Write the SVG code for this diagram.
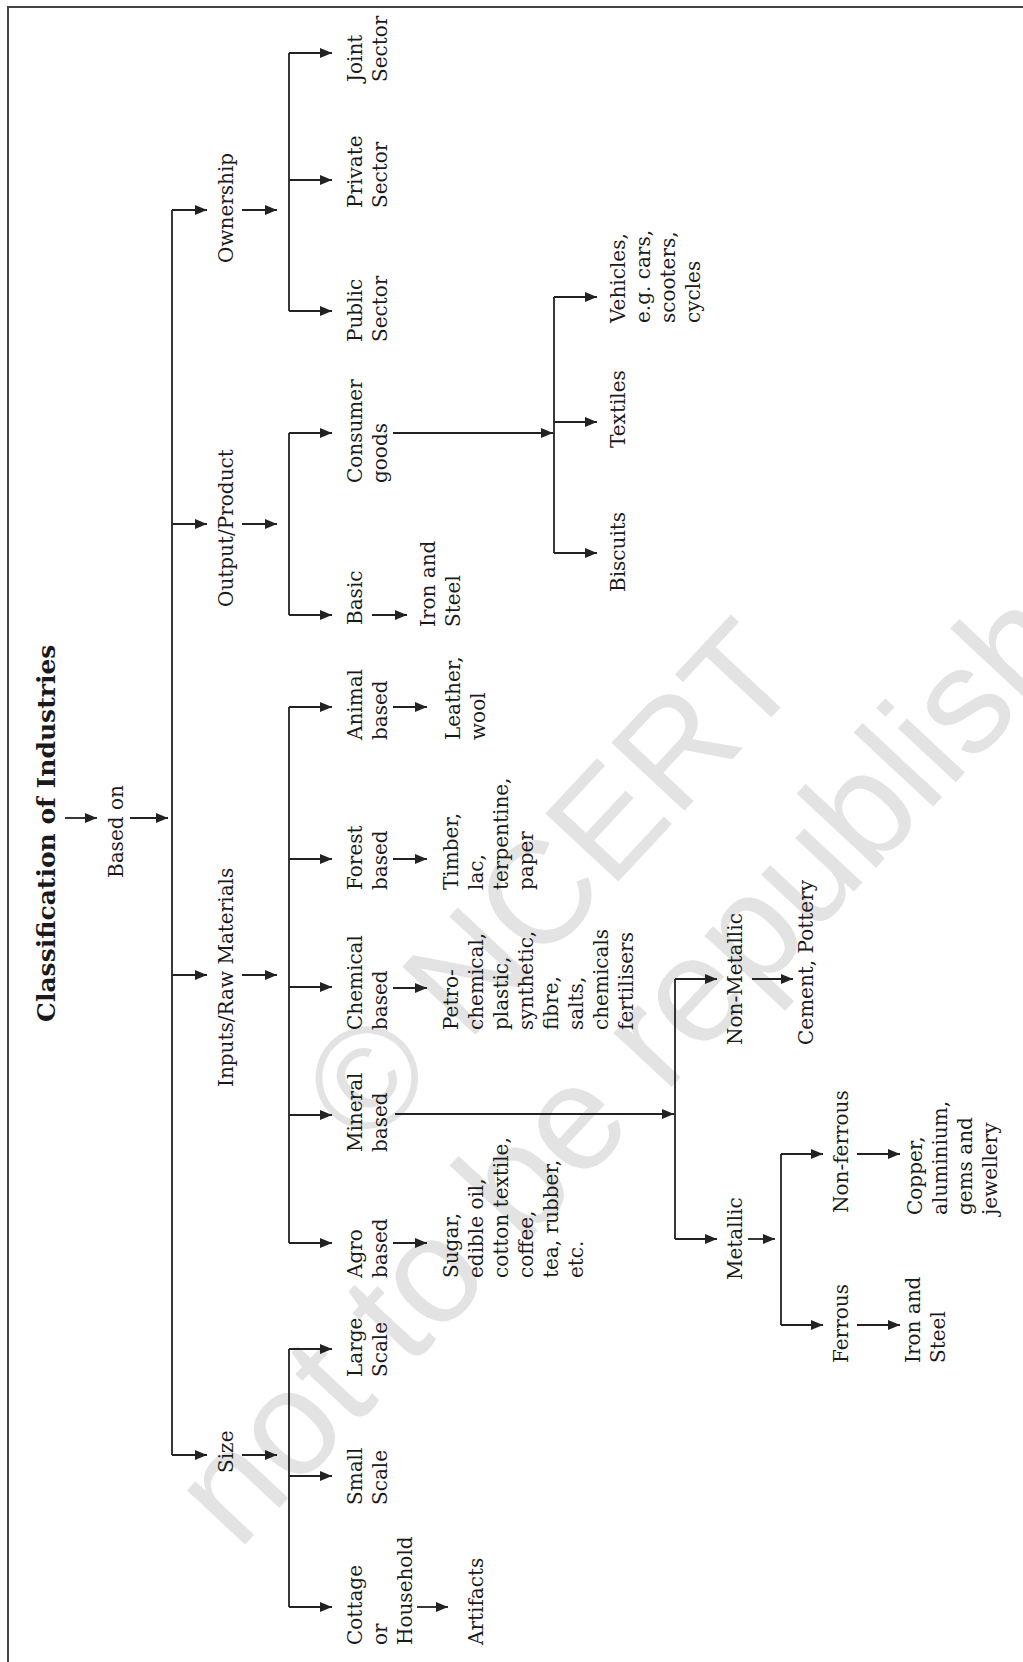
<svg xmlns="http://www.w3.org/2000/svg" width="1023" height="1662" viewBox="0 0 1023 1662">
<style>
.t{font-family:"DejaVu Serif","Liberation Serif",serif;font-size:20px;fill:#1a1a1a}
.title{font-family:"DejaVu Serif","Liberation Serif",serif;font-size:25px;font-weight:bold;fill:#1a1a1a}
.c{stroke:#222;stroke-width:1.8;fill:none}
.a{stroke:#222;stroke-width:1.8;fill:none;marker-end:url(#ah)}
.wm{font-family:"Liberation Sans",Arial,sans-serif;font-size:145px;fill:#e3e3e3}
</style>
<defs>
<marker id="ah" markerUnits="userSpaceOnUse" markerWidth="12" markerHeight="10" refX="12" refY="5" orient="auto">
<path d="M0,0 L12,5 L0,10 Z" fill="#222"/>
</marker>
</defs>
<rect width="1023" height="1662" fill="#fff"/>
<g id="watermark">
<text class="wm" transform="translate(367,1151) rotate(-47)">© NCERT</text>
<text class="wm" style="font-size:150px" transform="translate(238,1552) rotate(-47)">not to be republished</text>
</g>
<path id="border" d="M8,1662 V7 H1023" stroke="#444" stroke-width="2" fill="none"/>
<g id="connectors">
<path class="a" d="M65,818 H97"/>
<path class="a" d="M130,818 H168"/>
<path class="c" d="M172,210 V1455"/>
<path class="a" d="M172,210 H207"/>
<path class="a" d="M172,524 H207"/>
<path class="a" d="M172,975 H207"/>
<path class="a" d="M172,1455 H207"/>
<path class="a" d="M242,210 H277"/>
<path class="a" d="M242,524 H277"/>
<path class="a" d="M242,975 H277"/>
<path class="a" d="M242,1455 H277"/>
<path class="c" d="M289,53 V311"/>
<path class="a" d="M289,53 H332"/>
<path class="a" d="M289,180 H332"/>
<path class="a" d="M289,311 H332"/>
<path class="c" d="M289,433 V615"/>
<path class="a" d="M289,433 H332"/>
<path class="a" d="M289,615 H332"/>
<path class="c" d="M289,707 V1243"/>
<path class="a" d="M289,707 H332"/>
<path class="a" d="M289,859 H332"/>
<path class="a" d="M289,987 H332"/>
<path class="a" d="M289,1115 H332"/>
<path class="a" d="M289,1243 H332"/>
<path class="c" d="M289,1349 V1607"/>
<path class="a" d="M289,1349 H332"/>
<path class="a" d="M289,1476 H332"/>
<path class="a" d="M289,1607 H332"/>
<path class="a" d="M393,433 H553"/>
<path class="c" d="M554,297 V553"/>
<path class="a" d="M554,297 H597"/>
<path class="a" d="M554,422 H597"/>
<path class="a" d="M554,553 H597"/>
<path class="a" d="M372,615 H407"/>
<path class="a" d="M393,707 H427"/>
<path class="a" d="M393,859 H427"/>
<path class="a" d="M393,988 H427"/>
<path class="a" d="M393,1243 H427"/>
<path class="a" d="M417,1607 H448"/>
<path class="a" d="M395,1114 H674"/>
<path class="c" d="M675,979 V1239"/>
<path class="a" d="M675,979 H717"/>
<path class="a" d="M675,1239 H717"/>
<path class="a" d="M752,979 H793"/>
<path class="a" d="M748,1239 H775"/>
<path class="c" d="M781,1154 V1325"/>
<path class="a" d="M781,1154 H823"/>
<path class="a" d="M781,1325 H823"/>
<path class="a" d="M857,1154 H900"/>
<path class="a" d="M857,1325 H900"/>
</g>
<g id="title"><text class="title" transform="translate(55,1022) rotate(-90)">Classification of Industries</text></g>
<g id="based-on"><text class="t" transform="translate(123,878) rotate(-90)">Based on</text></g>
<g id="ownership"><text class="t" transform="translate(233,263) rotate(-90)">Ownership</text></g>
<g id="output"><text class="t" transform="translate(233,607) rotate(-90)">Output/Product</text></g>
<g id="inputs"><text class="t" transform="translate(233,1087) rotate(-90)">Inputs/Raw Materials</text></g>
<g id="size"><text class="t" transform="translate(233,1473) rotate(-90)">Size</text></g>
<g id="joint"><text class="t" transform="translate(362,82) rotate(-90)"><tspan x="0">Joint</tspan><tspan x="0" dy="25">Sector</tspan></text></g>
<g id="private"><text class="t" transform="translate(362,208) rotate(-90)"><tspan x="0">Private</tspan><tspan x="0" dy="25">Sector</tspan></text></g>
<g id="public"><text class="t" transform="translate(362,342) rotate(-90)"><tspan x="0">Public</tspan><tspan x="0" dy="25">Sector</tspan></text></g>
<g id="consumer"><text class="t" transform="translate(362,483) rotate(-90)"><tspan x="0">Consumer</tspan><tspan x="0" dy="25">goods</tspan></text></g>
<g id="basic"><text class="t" transform="translate(362,625) rotate(-90)">Basic</text></g>
<g id="basic-iron"><text class="t" transform="translate(435,627) rotate(-90)"><tspan x="0">Iron and</tspan><tspan x="0" dy="25">Steel</tspan></text></g>
<g id="vehicles"><text class="t" transform="translate(625,323) rotate(-90)"><tspan x="0">Vehicles,</tspan><tspan x="0" dy="25">e.g. cars,</tspan><tspan x="0" dy="25">scooters,</tspan><tspan x="0" dy="25">cycles</tspan></text></g>
<g id="textiles"><text class="t" transform="translate(625,448) rotate(-90)">Textiles</text></g>
<g id="biscuits"><text class="t" transform="translate(625,592) rotate(-90)">Biscuits</text></g>
<g id="animal"><text class="t" transform="translate(362,740) rotate(-90)"><tspan x="0">Animal</tspan><tspan x="0" dy="25">based</tspan></text></g>
<g id="leather"><text class="t" transform="translate(460,740) rotate(-90)"><tspan x="0">Leather,</tspan><tspan x="0" dy="25">wool</tspan></text></g>
<g id="forest"><text class="t" transform="translate(362,890) rotate(-90)"><tspan x="0">Forest</tspan><tspan x="0" dy="25">based</tspan></text></g>
<g id="timber"><text class="t" transform="translate(458,890) rotate(-90)"><tspan x="0">Timber,</tspan><tspan x="0" dy="25">lac,</tspan><tspan x="0" dy="25">terpentine,</tspan><tspan x="0" dy="25">paper</tspan></text></g>
<g id="chemical"><text class="t" transform="translate(362,1030) rotate(-90)"><tspan x="0">Chemical</tspan><tspan x="0" dy="25">based</tspan></text></g>
<g id="petro"><text class="t" transform="translate(458,1030) rotate(-90)"><tspan x="0">Petro-</tspan><tspan x="0" dy="25">chemical,</tspan><tspan x="0" dy="25">plastic,</tspan><tspan x="0" dy="25">synthetic,</tspan><tspan x="0" dy="25">fibre,</tspan><tspan x="0" dy="25">salts,</tspan><tspan x="0" dy="25">chemicals</tspan><tspan x="0" dy="25">fertilisers</tspan></text></g>
<g id="mineral"><text class="t" transform="translate(362,1152) rotate(-90)"><tspan x="0">Mineral</tspan><tspan x="0" dy="25">based</tspan></text></g>
<g id="agro"><text class="t" transform="translate(362,1278) rotate(-90)"><tspan x="0">Agro</tspan><tspan x="0" dy="25">based</tspan></text></g>
<g id="sugar"><text class="t" transform="translate(458,1278) rotate(-90)"><tspan x="0">Sugar,</tspan><tspan x="0" dy="25">edible oil,</tspan><tspan x="0" dy="25">cotton textile,</tspan><tspan x="0" dy="25">coffee,</tspan><tspan x="0" dy="25">tea, rubber,</tspan><tspan x="0" dy="25">etc.</tspan></text></g>
<g id="large"><text class="t" transform="translate(362,1377) rotate(-90)"><tspan x="0">Large</tspan><tspan x="0" dy="25">Scale</tspan></text></g>
<g id="small"><text class="t" transform="translate(362,1505) rotate(-90)"><tspan x="0">Small</tspan><tspan x="0" dy="25">Scale</tspan></text></g>
<g id="cottage"><text class="t" transform="translate(362,1645) rotate(-90)"><tspan x="0">Cottage</tspan><tspan x="0" dy="25">or</tspan><tspan x="0" dy="25">Household</tspan></text></g>
<g id="artifacts"><text class="t" transform="translate(483,1645) rotate(-90)">Artifacts</text></g>
<g id="non-metallic"><text class="t" transform="translate(742,1045) rotate(-90)">Non-Metallic</text></g>
<g id="cement"><text class="t" transform="translate(813,1045) rotate(-90)">Cement, Pottery</text></g>
<g id="metallic"><text class="t" transform="translate(742,1280) rotate(-90)">Metallic</text></g>
<g id="non-ferrous"><text class="t" transform="translate(848,1213) rotate(-90)">Non-ferrous</text></g>
<g id="ferrous"><text class="t" transform="translate(848,1363) rotate(-90)">Ferrous</text></g>
<g id="copper"><text class="t" transform="translate(922,1215) rotate(-90)"><tspan x="0">Copper,</tspan><tspan x="0" dy="25">aluminium,</tspan><tspan x="0" dy="25">gems and</tspan><tspan x="0" dy="25">jewellery</tspan></text></g>
<g id="ferrous-iron"><text class="t" transform="translate(920,1363) rotate(-90)"><tspan x="0">Iron and</tspan><tspan x="0" dy="25">Steel</tspan></text></g>
</svg>
